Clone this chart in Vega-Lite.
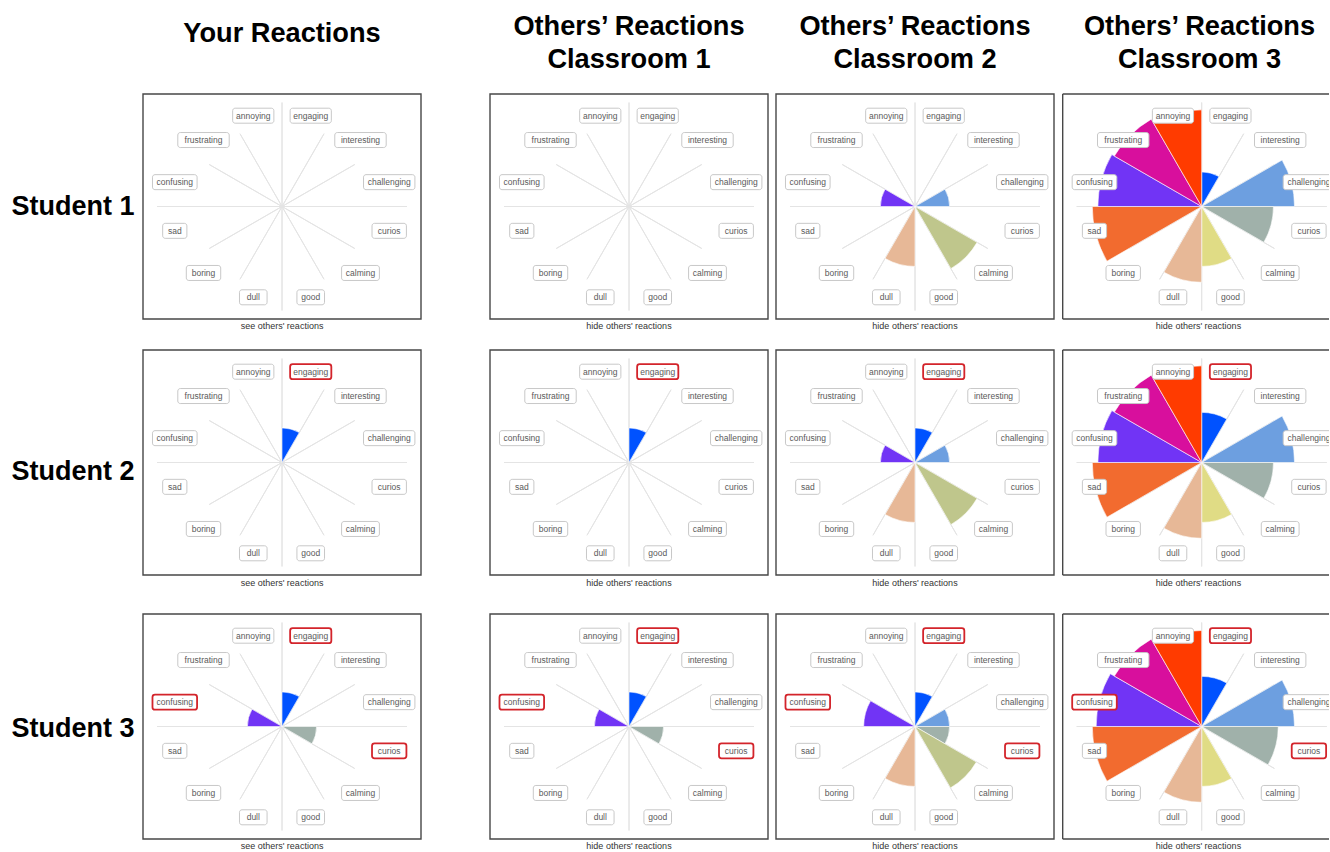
{
  "$schema": "https://vega.github.io/schema/vega-lite/v6.json",
  "background": "white",
  "padding": {"left": 11, "top": 0, "right": 0, "bottom": 0},
  "columns": 5,
  "spacing": {"row": 31, "column": 8},
  "align": "each",
  "bounds": "flush",
  "datasets": {
    "cats": [
      {"cat": "engaging", "k": 0}, {"cat": "interesting", "k": 1}, {"cat": "challenging", "k": 2},
      {"cat": "curios", "k": 3}, {"cat": "calming", "k": 4}, {"cat": "good", "k": 5},
      {"cat": "dull", "k": 6}, {"cat": "boring", "k": 7}, {"cat": "sad", "k": 8},
      {"cat": "confusing", "k": 9}, {"cat": "frustrating", "k": 10}, {"cat": "annoying", "k": 11}
    ],
    "labels": [
      {"s": 1, "cat": "engaging", "k": 0, "sel": 0}, {"s": 1, "cat": "interesting", "k": 1, "sel": 0}, {"s": 1, "cat": "challenging", "k": 2, "sel": 0},
      {"s": 1, "cat": "curios", "k": 3, "sel": 0}, {"s": 1, "cat": "calming", "k": 4, "sel": 0}, {"s": 1, "cat": "good", "k": 5, "sel": 0},
      {"s": 1, "cat": "dull", "k": 6, "sel": 0}, {"s": 1, "cat": "boring", "k": 7, "sel": 0}, {"s": 1, "cat": "sad", "k": 8, "sel": 0},
      {"s": 1, "cat": "confusing", "k": 9, "sel": 0}, {"s": 1, "cat": "frustrating", "k": 10, "sel": 0}, {"s": 1, "cat": "annoying", "k": 11, "sel": 0},
      {"s": 2, "cat": "engaging", "k": 0, "sel": 1}, {"s": 2, "cat": "interesting", "k": 1, "sel": 0}, {"s": 2, "cat": "challenging", "k": 2, "sel": 0},
      {"s": 2, "cat": "curios", "k": 3, "sel": 0}, {"s": 2, "cat": "calming", "k": 4, "sel": 0}, {"s": 2, "cat": "good", "k": 5, "sel": 0},
      {"s": 2, "cat": "dull", "k": 6, "sel": 0}, {"s": 2, "cat": "boring", "k": 7, "sel": 0}, {"s": 2, "cat": "sad", "k": 8, "sel": 0},
      {"s": 2, "cat": "confusing", "k": 9, "sel": 0}, {"s": 2, "cat": "frustrating", "k": 10, "sel": 0}, {"s": 2, "cat": "annoying", "k": 11, "sel": 0},
      {"s": 3, "cat": "engaging", "k": 0, "sel": 1}, {"s": 3, "cat": "interesting", "k": 1, "sel": 0}, {"s": 3, "cat": "challenging", "k": 2, "sel": 0},
      {"s": 3, "cat": "curios", "k": 3, "sel": 1}, {"s": 3, "cat": "calming", "k": 4, "sel": 0}, {"s": 3, "cat": "good", "k": 5, "sel": 0},
      {"s": 3, "cat": "dull", "k": 6, "sel": 0}, {"s": 3, "cat": "boring", "k": 7, "sel": 0}, {"s": 3, "cat": "sad", "k": 8, "sel": 0},
      {"s": 3, "cat": "confusing", "k": 9, "sel": 1}, {"s": 3, "cat": "frustrating", "k": 10, "sel": 0}, {"s": 3, "cat": "annoying", "k": 11, "sel": 0}
    ],
    "reactions": [
      {"s": 1, "v": "C2", "cat": "challenging", "k": 2, "n": 1},
      {"s": 1, "v": "C2", "cat": "calming", "k": 4, "n": 4.3},
      {"s": 1, "v": "C2", "cat": "dull", "k": 6, "n": 3},
      {"s": 1, "v": "C2", "cat": "confusing", "k": 9, "n": 1},
      {"s": 1, "v": "C3", "cat": "engaging", "k": 0, "n": 1},
      {"s": 1, "v": "C3", "cat": "challenging", "k": 2, "n": 7.2},
      {"s": 1, "v": "C3", "cat": "curios", "k": 3, "n": 4.3},
      {"s": 1, "v": "C3", "cat": "good", "k": 5, "n": 3},
      {"s": 1, "v": "C3", "cat": "dull", "k": 6, "n": 4.8},
      {"s": 1, "v": "C3", "cat": "sad", "k": 8, "n": 10},
      {"s": 1, "v": "C3", "cat": "confusing", "k": 9, "n": 9},
      {"s": 1, "v": "C3", "cat": "frustrating", "k": 10, "n": 8.5},
      {"s": 1, "v": "C3", "cat": "annoying", "k": 11, "n": 7.8},
      {"s": 2, "v": "Y", "cat": "engaging", "k": 0, "n": 1},
      {"s": 2, "v": "C1", "cat": "engaging", "k": 0, "n": 1},
      {"s": 2, "v": "C2", "cat": "engaging", "k": 0, "n": 1},
      {"s": 2, "v": "C2", "cat": "challenging", "k": 2, "n": 1},
      {"s": 2, "v": "C2", "cat": "calming", "k": 4, "n": 4.3},
      {"s": 2, "v": "C2", "cat": "dull", "k": 6, "n": 3},
      {"s": 2, "v": "C2", "cat": "confusing", "k": 9, "n": 1},
      {"s": 2, "v": "C3", "cat": "engaging", "k": 0, "n": 2.1},
      {"s": 2, "v": "C3", "cat": "challenging", "k": 2, "n": 7.2},
      {"s": 2, "v": "C3", "cat": "curios", "k": 3, "n": 4.3},
      {"s": 2, "v": "C3", "cat": "good", "k": 5, "n": 3},
      {"s": 2, "v": "C3", "cat": "dull", "k": 6, "n": 4.8},
      {"s": 2, "v": "C3", "cat": "sad", "k": 8, "n": 10},
      {"s": 2, "v": "C3", "cat": "confusing", "k": 9, "n": 9},
      {"s": 2, "v": "C3", "cat": "frustrating", "k": 10, "n": 8.5},
      {"s": 2, "v": "C3", "cat": "annoying", "k": 11, "n": 7.8},
      {"s": 3, "v": "Y", "cat": "engaging", "k": 0, "n": 1},
      {"s": 3, "v": "Y", "cat": "curios", "k": 3, "n": 1},
      {"s": 3, "v": "Y", "cat": "confusing", "k": 9, "n": 1},
      {"s": 3, "v": "C1", "cat": "engaging", "k": 0, "n": 1},
      {"s": 3, "v": "C1", "cat": "curios", "k": 3, "n": 1},
      {"s": 3, "v": "C1", "cat": "confusing", "k": 9, "n": 1},
      {"s": 3, "v": "C2", "cat": "engaging", "k": 0, "n": 1},
      {"s": 3, "v": "C2", "cat": "challenging", "k": 2, "n": 1},
      {"s": 3, "v": "C2", "cat": "curios", "k": 3, "n": 1},
      {"s": 3, "v": "C2", "cat": "calming", "k": 4, "n": 4.2},
      {"s": 3, "v": "C2", "cat": "dull", "k": 6, "n": 3},
      {"s": 3, "v": "C2", "cat": "confusing", "k": 9, "n": 2.2},
      {"s": 3, "v": "C3", "cat": "engaging", "k": 0, "n": 2.1},
      {"s": 3, "v": "C3", "cat": "challenging", "k": 2, "n": 7.2},
      {"s": 3, "v": "C3", "cat": "curios", "k": 3, "n": 4.9},
      {"s": 3, "v": "C3", "cat": "good", "k": 5, "n": 3},
      {"s": 3, "v": "C3", "cat": "dull", "k": 6, "n": 4.8},
      {"s": 3, "v": "C3", "cat": "sad", "k": 8, "n": 10},
      {"s": 3, "v": "C3", "cat": "confusing", "k": 9, "n": 9.3},
      {"s": 3, "v": "C3", "cat": "frustrating", "k": 10, "n": 8.5},
      {"s": 3, "v": "C3", "cat": "annoying", "k": 11, "n": 7.7}
    ]
  },
  "concat": [
    {"width": 124, "height": 63, "data": {"values": [{"t": ""}]}, "mark": {"type": "text"}, "encoding": {"text": {"field": "t"}}},
    {"width": 339, "height": 63, "data": {"values": [{"t": "Your Reactions"}]}, "mark": {"type": "text", "fontSize": 27.2, "fontWeight": "bold", "fill": "#000000", "baseline": "alphabetic", "dx": -30.5, "dy": 10.5}, "encoding": {"text": {"field": "t"}}},
    {"width": 278, "height": 63, "data": {"values": [{"t": "Others’ Reactions\nClassroom 1"}]}, "mark": {"type": "text", "fontSize": 27.2, "fontWeight": "bold", "fill": "#000000", "baseline": "alphabetic", "lineBreak": "\n", "lineHeight": 33, "dy": 3}, "encoding": {"text": {"field": "t"}}},
    {"width": 278, "height": 63, "data": {"values": [{"t": "Others’ Reactions\nClassroom 2"}]}, "mark": {"type": "text", "fontSize": 27.2, "fontWeight": "bold", "fill": "#000000", "baseline": "alphabetic", "lineBreak": "\n", "lineHeight": 33, "dy": 3}, "encoding": {"text": {"field": "t"}}},
    {"width": 267, "height": 63, "data": {"values": [{"t": "Others’ Reactions\nClassroom 3"}]}, "mark": {"type": "text", "fontSize": 27.2, "fontWeight": "bold", "fill": "#000000", "baseline": "alphabetic", "lineBreak": "\n", "lineHeight": 33, "dx": 4, "dy": 3}, "encoding": {"text": {"field": "t"}}},

    {"width": 124, "height": 225, "data": {"values": [{"t": "Student 1"}]}, "mark": {"type": "text", "fontSize": 27, "fontWeight": "bold", "fill": "#000000", "dy": 0}, "encoding": {"text": {"field": "t"}}},
    {
      "width": 339, "height": 225,
      "title": {"text": "see others' reactions", "offset": 2, "dx": -30.5},
      "layer": [
        {"data": {"values": [{}]}, "mark": {"type": "rect", "fill": "transparent", "stroke": "#474747", "strokeWidth": 1.4},
         "encoding": {"x": {"datum": -139, "type": "quantitative", "scale": {"domain": [-139, 200], "nice": false}}, "x2": {"datum": 139}, "y": {"datum": -112.5, "type": "quantitative", "scale": {"domain": [-112.5, 112.5], "nice": false}}, "y2": {"datum": 112.5}}},
        {"data": {"name": "cats"}, "encoding": {"x": {"datum": 0, "type": "quantitative"}, "y": {"datum": 0, "type": "quantitative"}, "theta": {"field": "k", "type": "quantitative", "scale": {"domain": [0, 12], "range": [0, 6.283185307]}, "stack": null}, "theta2": {"field": "k"}},
         "layer": [
          {"transform": [{"filter": "datum.k % 3 != 0"}], "mark": {"type": "arc", "filled": false, "stroke": "#e4e4e4", "strokeWidth": 1, "radius": 84}},
          {"transform": [{"filter": "datum.k % 6 == 0"}], "mark": {"type": "arc", "filled": false, "stroke": "#e4e4e4", "strokeWidth": 1, "radius": 104}},
          {"transform": [{"filter": "datum.k % 6 == 3"}], "mark": {"type": "arc", "filled": false, "stroke": "#e4e4e4", "strokeWidth": 1, "radius": 125}}]},
        {"data": {"name": "reactions"}, "transform": [{"filter": "datum.s == 1 && datum.v == 'Y'"}], "mark": {"type": "arc", "theta2Offset": 0.5235988, "stroke": "#ffffff", "strokeWidth": 0.6},
         "encoding": {"x": {"datum": 0, "type": "quantitative"}, "y": {"datum": 0, "type": "quantitative"}, "theta": {"field": "k", "type": "quantitative", "scale": {"domain": [0, 12], "range": [0, 6.283185307]}, "stack": null}, "theta2": {"field": "k"}, "radius": {"field": "n", "type": "quantitative", "scale": {"type": "sqrt", "domain": [0, 16], "range": [0, 138.4]}}, "color": {"field": "cat", "type": "nominal", "scale": {"domain": ["engaging","interesting","challenging","curios","calming","good","dull","boring","sad","confusing","frustrating","annoying"], "range": ["#0052ff","#4fc3c8","#6d9fe0","#a0b1aa","#bfc68c","#e0dc85","#e7b897","#b59c8a","#f26b2f","#7134f5","#d80f9d","#ff3b00"]}, "legend": null}}},
        {"data": {"name": "labels"}, "transform": [{"filter": "datum.s == 1"}, {"calculate": "(datum.k + 0.5) * PI / 6", "as": "a"}, {"calculate": "111 * sin(datum.a)", "as": "cx"}, {"calculate": "94 * cos(datum.a)", "as": "cy"}, {"calculate": "3.4 * length(datum.cat) + 14", "as": "w"}, {"calculate": "datum.cx - datum.w / 2", "as": "bx1"}, {"calculate": "datum.cx + datum.w / 2", "as": "bx2"}, {"calculate": "datum.cy - 7.5", "as": "by1"}, {"calculate": "datum.cy + 7.5", "as": "by2"}],
         "layer": [
          {"mark": {"type": "rect", "fill": "#ffffff", "cornerRadius": 2.5}, "encoding": {"x": {"field": "bx1", "type": "quantitative"}, "x2": {"field": "bx2"}, "y": {"field": "by1", "type": "quantitative"}, "y2": {"field": "by2"}, "stroke": {"condition": {"test": "datum.sel == 1", "value": "#d3242b"}, "value": "#c8c8c8"}, "strokeWidth": {"condition": {"test": "datum.sel == 1", "value": 1.8}, "value": 1}}},
          {"mark": {"type": "text", "fontSize": 8.5, "fill": "#5a5a5a"}, "encoding": {"x": {"field": "cx", "type": "quantitative"}, "y": {"field": "cy", "type": "quantitative"}, "text": {"field": "cat"}}}]}
      ]
    },
    {
      "width": 278, "height": 225,
      "title": {"text": "hide others' reactions", "offset": 2},
      "layer": [
        {"data": {"values": [{}]}, "mark": {"type": "rect", "fill": "transparent", "stroke": "#474747", "strokeWidth": 1.4},
         "encoding": {"x": {"datum": -139, "type": "quantitative", "scale": {"domain": [-139, 139], "nice": false}}, "x2": {"datum": 139}, "y": {"datum": -112.5, "type": "quantitative", "scale": {"domain": [-112.5, 112.5], "nice": false}}, "y2": {"datum": 112.5}}},
        {"data": {"name": "cats"}, "encoding": {"x": {"datum": 0, "type": "quantitative"}, "y": {"datum": 0, "type": "quantitative"}, "theta": {"field": "k", "type": "quantitative", "scale": {"domain": [0, 12], "range": [0, 6.283185307]}, "stack": null}, "theta2": {"field": "k"}},
         "layer": [
          {"transform": [{"filter": "datum.k % 3 != 0"}], "mark": {"type": "arc", "filled": false, "stroke": "#e4e4e4", "strokeWidth": 1, "radius": 84}},
          {"transform": [{"filter": "datum.k % 6 == 0"}], "mark": {"type": "arc", "filled": false, "stroke": "#e4e4e4", "strokeWidth": 1, "radius": 104}},
          {"transform": [{"filter": "datum.k % 6 == 3"}], "mark": {"type": "arc", "filled": false, "stroke": "#e4e4e4", "strokeWidth": 1, "radius": 125}}]},
        {"data": {"name": "reactions"}, "transform": [{"filter": "datum.s == 1 && datum.v == 'C1'"}], "mark": {"type": "arc", "theta2Offset": 0.5235988, "stroke": "#ffffff", "strokeWidth": 0.6},
         "encoding": {"x": {"datum": 0, "type": "quantitative"}, "y": {"datum": 0, "type": "quantitative"}, "theta": {"field": "k", "type": "quantitative", "scale": {"domain": [0, 12], "range": [0, 6.283185307]}, "stack": null}, "theta2": {"field": "k"}, "radius": {"field": "n", "type": "quantitative", "scale": {"type": "sqrt", "domain": [0, 16], "range": [0, 138.4]}}, "color": {"field": "cat", "type": "nominal", "scale": {"domain": ["engaging","interesting","challenging","curios","calming","good","dull","boring","sad","confusing","frustrating","annoying"], "range": ["#0052ff","#4fc3c8","#6d9fe0","#a0b1aa","#bfc68c","#e0dc85","#e7b897","#b59c8a","#f26b2f","#7134f5","#d80f9d","#ff3b00"]}, "legend": null}}},
        {"data": {"name": "labels"}, "transform": [{"filter": "datum.s == 1"}, {"calculate": "(datum.k + 0.5) * PI / 6", "as": "a"}, {"calculate": "111 * sin(datum.a)", "as": "cx"}, {"calculate": "94 * cos(datum.a)", "as": "cy"}, {"calculate": "3.4 * length(datum.cat) + 14", "as": "w"}, {"calculate": "datum.cx - datum.w / 2", "as": "bx1"}, {"calculate": "datum.cx + datum.w / 2", "as": "bx2"}, {"calculate": "datum.cy - 7.5", "as": "by1"}, {"calculate": "datum.cy + 7.5", "as": "by2"}],
         "layer": [
          {"mark": {"type": "rect", "fill": "#ffffff", "cornerRadius": 2.5}, "encoding": {"x": {"field": "bx1", "type": "quantitative"}, "x2": {"field": "bx2"}, "y": {"field": "by1", "type": "quantitative"}, "y2": {"field": "by2"}, "stroke": {"condition": {"test": "datum.sel == 1", "value": "#d3242b"}, "value": "#c8c8c8"}, "strokeWidth": {"condition": {"test": "datum.sel == 1", "value": 1.8}, "value": 1}}},
          {"mark": {"type": "text", "fontSize": 8.5, "fill": "#5a5a5a"}, "encoding": {"x": {"field": "cx", "type": "quantitative"}, "y": {"field": "cy", "type": "quantitative"}, "text": {"field": "cat"}}}]}
      ]
    },
    {
      "width": 278, "height": 225,
      "title": {"text": "hide others' reactions", "offset": 2},
      "layer": [
        {"data": {"values": [{}]}, "mark": {"type": "rect", "fill": "transparent", "stroke": "#474747", "strokeWidth": 1.4},
         "encoding": {"x": {"datum": -139, "type": "quantitative", "scale": {"domain": [-139, 139], "nice": false}}, "x2": {"datum": 139}, "y": {"datum": -112.5, "type": "quantitative", "scale": {"domain": [-112.5, 112.5], "nice": false}}, "y2": {"datum": 112.5}}},
        {"data": {"name": "cats"}, "encoding": {"x": {"datum": 0, "type": "quantitative"}, "y": {"datum": 0, "type": "quantitative"}, "theta": {"field": "k", "type": "quantitative", "scale": {"domain": [0, 12], "range": [0, 6.283185307]}, "stack": null}, "theta2": {"field": "k"}},
         "layer": [
          {"transform": [{"filter": "datum.k % 3 != 0"}], "mark": {"type": "arc", "filled": false, "stroke": "#e4e4e4", "strokeWidth": 1, "radius": 84}},
          {"transform": [{"filter": "datum.k % 6 == 0"}], "mark": {"type": "arc", "filled": false, "stroke": "#e4e4e4", "strokeWidth": 1, "radius": 104}},
          {"transform": [{"filter": "datum.k % 6 == 3"}], "mark": {"type": "arc", "filled": false, "stroke": "#e4e4e4", "strokeWidth": 1, "radius": 125}}]},
        {"data": {"name": "reactions"}, "transform": [{"filter": "datum.s == 1 && datum.v == 'C2'"}], "mark": {"type": "arc", "theta2Offset": 0.5235988, "stroke": "#ffffff", "strokeWidth": 0.6},
         "encoding": {"x": {"datum": 0, "type": "quantitative"}, "y": {"datum": 0, "type": "quantitative"}, "theta": {"field": "k", "type": "quantitative", "scale": {"domain": [0, 12], "range": [0, 6.283185307]}, "stack": null}, "theta2": {"field": "k"}, "radius": {"field": "n", "type": "quantitative", "scale": {"type": "sqrt", "domain": [0, 16], "range": [0, 138.4]}}, "color": {"field": "cat", "type": "nominal", "scale": {"domain": ["engaging","interesting","challenging","curios","calming","good","dull","boring","sad","confusing","frustrating","annoying"], "range": ["#0052ff","#4fc3c8","#6d9fe0","#a0b1aa","#bfc68c","#e0dc85","#e7b897","#b59c8a","#f26b2f","#7134f5","#d80f9d","#ff3b00"]}, "legend": null}}},
        {"data": {"name": "labels"}, "transform": [{"filter": "datum.s == 1"}, {"calculate": "(datum.k + 0.5) * PI / 6", "as": "a"}, {"calculate": "111 * sin(datum.a)", "as": "cx"}, {"calculate": "94 * cos(datum.a)", "as": "cy"}, {"calculate": "3.4 * length(datum.cat) + 14", "as": "w"}, {"calculate": "datum.cx - datum.w / 2", "as": "bx1"}, {"calculate": "datum.cx + datum.w / 2", "as": "bx2"}, {"calculate": "datum.cy - 7.5", "as": "by1"}, {"calculate": "datum.cy + 7.5", "as": "by2"}],
         "layer": [
          {"mark": {"type": "rect", "fill": "#ffffff", "cornerRadius": 2.5}, "encoding": {"x": {"field": "bx1", "type": "quantitative"}, "x2": {"field": "bx2"}, "y": {"field": "by1", "type": "quantitative"}, "y2": {"field": "by2"}, "stroke": {"condition": {"test": "datum.sel == 1", "value": "#d3242b"}, "value": "#c8c8c8"}, "strokeWidth": {"condition": {"test": "datum.sel == 1", "value": 1.8}, "value": 1}}},
          {"mark": {"type": "text", "fontSize": 8.5, "fill": "#5a5a5a"}, "encoding": {"x": {"field": "cx", "type": "quantitative"}, "y": {"field": "cy", "type": "quantitative"}, "text": {"field": "cat"}}}]}
      ]
    },
    {
      "width": 267, "height": 225,
      "title": {"text": "hide others' reactions", "offset": 2, "dx": 3},
      "layer": [
        {"data": {"values": [{}]}, "mark": {"type": "rule", "color": "#474747", "strokeWidth": 1.4},
         "encoding": {"x": {"datum": -139, "type": "quantitative", "scale": {"domain": [-139.7, 127.3], "nice": false}}, "x2": {"datum": 127.3}, "y": {"datum": 112.5, "type": "quantitative", "scale": {"domain": [-112.5, 112.5], "nice": false}}}},
        {"data": {"values": [{}]}, "mark": {"type": "rule", "color": "#474747", "strokeWidth": 1.4},
         "encoding": {"x": {"datum": -139, "type": "quantitative"}, "x2": {"datum": 127.3}, "y": {"datum": -112.5, "type": "quantitative"}}},
        {"data": {"values": [{}]}, "mark": {"type": "rule", "color": "#474747", "strokeWidth": 1.4},
         "encoding": {"x": {"datum": -139, "type": "quantitative"}, "y": {"datum": -112.5, "type": "quantitative"}, "y2": {"datum": 112.5}}},
        {"data": {"name": "cats"}, "encoding": {"x": {"datum": 0, "type": "quantitative"}, "y": {"datum": 0, "type": "quantitative"}, "theta": {"field": "k", "type": "quantitative", "scale": {"domain": [0, 12], "range": [0, 6.283185307]}, "stack": null}, "theta2": {"field": "k"}},
         "layer": [
          {"transform": [{"filter": "datum.k % 3 != 0"}], "mark": {"type": "arc", "filled": false, "stroke": "#e4e4e4", "strokeWidth": 1, "radius": 84}},
          {"transform": [{"filter": "datum.k % 6 == 0"}], "mark": {"type": "arc", "filled": false, "stroke": "#e4e4e4", "strokeWidth": 1, "radius": 104}},
          {"transform": [{"filter": "datum.k % 6 == 3"}], "mark": {"type": "arc", "filled": false, "stroke": "#e4e4e4", "strokeWidth": 1, "radius": 125}}]},
        {"data": {"name": "reactions"}, "transform": [{"filter": "datum.s == 1 && datum.v == 'C3'"}], "mark": {"type": "arc", "theta2Offset": 0.5235988, "stroke": "#ffffff", "strokeWidth": 0.6},
         "encoding": {"x": {"datum": 0, "type": "quantitative"}, "y": {"datum": 0, "type": "quantitative"}, "theta": {"field": "k", "type": "quantitative", "scale": {"domain": [0, 12], "range": [0, 6.283185307]}, "stack": null}, "theta2": {"field": "k"}, "radius": {"field": "n", "type": "quantitative", "scale": {"type": "sqrt", "domain": [0, 16], "range": [0, 138.4]}}, "color": {"field": "cat", "type": "nominal", "scale": {"domain": ["engaging","interesting","challenging","curios","calming","good","dull","boring","sad","confusing","frustrating","annoying"], "range": ["#0052ff","#4fc3c8","#6d9fe0","#a0b1aa","#bfc68c","#e0dc85","#e7b897","#b59c8a","#f26b2f","#7134f5","#d80f9d","#ff3b00"]}, "legend": null}}},
        {"data": {"name": "labels"}, "transform": [{"filter": "datum.s == 1"}, {"calculate": "(datum.k + 0.5) * PI / 6", "as": "a"}, {"calculate": "111 * sin(datum.a)", "as": "cx"}, {"calculate": "94 * cos(datum.a)", "as": "cy"}, {"calculate": "3.4 * length(datum.cat) + 14", "as": "w"}, {"calculate": "datum.cx - datum.w / 2", "as": "bx1"}, {"calculate": "datum.cx + datum.w / 2", "as": "bx2"}, {"calculate": "datum.cy - 7.5", "as": "by1"}, {"calculate": "datum.cy + 7.5", "as": "by2"}],
         "layer": [
          {"mark": {"type": "rect", "fill": "#ffffff", "cornerRadius": 2.5, "clip": true}, "encoding": {"x": {"field": "bx1", "type": "quantitative"}, "x2": {"field": "bx2"}, "y": {"field": "by1", "type": "quantitative"}, "y2": {"field": "by2"}, "stroke": {"condition": {"test": "datum.sel == 1", "value": "#d3242b"}, "value": "#c8c8c8"}, "strokeWidth": {"condition": {"test": "datum.sel == 1", "value": 1.8}, "value": 1}}},
          {"mark": {"type": "text", "fontSize": 8.5, "fill": "#5a5a5a", "clip": true}, "encoding": {"x": {"field": "cx", "type": "quantitative"}, "y": {"field": "cy", "type": "quantitative"}, "text": {"field": "cat"}}}]}
      ]
    },

    {"width": 124, "height": 233, "data": {"values": [{"t": "Student 2"}]}, "mark": {"type": "text", "fontSize": 27, "fontWeight": "bold", "fill": "#000000", "dy": 5}, "encoding": {"text": {"field": "t"}}},
    {
      "width": 339, "height": 233,
      "title": {"text": "see others' reactions", "offset": -4, "dx": -30.5},
      "layer": [
        {"data": {"values": [{}]}, "mark": {"type": "rect", "fill": "transparent", "stroke": "#474747", "strokeWidth": 1.4},
         "encoding": {"x": {"datum": -139, "type": "quantitative", "scale": {"domain": [-139, 200], "nice": false}}, "x2": {"datum": 139}, "y": {"datum": -112.5, "type": "quantitative", "scale": {"domain": [-120.5, 112.5], "nice": false}}, "y2": {"datum": 112.5}}},
        {"data": {"name": "cats"}, "encoding": {"x": {"datum": 0, "type": "quantitative"}, "y": {"datum": 0, "type": "quantitative"}, "theta": {"field": "k", "type": "quantitative", "scale": {"domain": [0, 12], "range": [0, 6.283185307]}, "stack": null}, "theta2": {"field": "k"}},
         "layer": [
          {"transform": [{"filter": "datum.k % 3 != 0"}], "mark": {"type": "arc", "filled": false, "stroke": "#e4e4e4", "strokeWidth": 1, "radius": 84}},
          {"transform": [{"filter": "datum.k % 6 == 0"}], "mark": {"type": "arc", "filled": false, "stroke": "#e4e4e4", "strokeWidth": 1, "radius": 104}},
          {"transform": [{"filter": "datum.k % 6 == 3"}], "mark": {"type": "arc", "filled": false, "stroke": "#e4e4e4", "strokeWidth": 1, "radius": 125}}]},
        {"data": {"name": "reactions"}, "transform": [{"filter": "datum.s == 2 && datum.v == 'Y'"}], "mark": {"type": "arc", "theta2Offset": 0.5235988, "stroke": "#ffffff", "strokeWidth": 0.6},
         "encoding": {"x": {"datum": 0, "type": "quantitative"}, "y": {"datum": 0, "type": "quantitative"}, "theta": {"field": "k", "type": "quantitative", "scale": {"domain": [0, 12], "range": [0, 6.283185307]}, "stack": null}, "theta2": {"field": "k"}, "radius": {"field": "n", "type": "quantitative", "scale": {"type": "sqrt", "domain": [0, 16], "range": [0, 138.4]}}, "color": {"field": "cat", "type": "nominal", "scale": {"domain": ["engaging","interesting","challenging","curios","calming","good","dull","boring","sad","confusing","frustrating","annoying"], "range": ["#0052ff","#4fc3c8","#6d9fe0","#a0b1aa","#bfc68c","#e0dc85","#e7b897","#b59c8a","#f26b2f","#7134f5","#d80f9d","#ff3b00"]}, "legend": null}}},
        {"data": {"name": "labels"}, "transform": [{"filter": "datum.s == 2"}, {"calculate": "(datum.k + 0.5) * PI / 6", "as": "a"}, {"calculate": "111 * sin(datum.a)", "as": "cx"}, {"calculate": "94 * cos(datum.a)", "as": "cy"}, {"calculate": "3.4 * length(datum.cat) + 14", "as": "w"}, {"calculate": "datum.cx - datum.w / 2", "as": "bx1"}, {"calculate": "datum.cx + datum.w / 2", "as": "bx2"}, {"calculate": "datum.cy - 7.5", "as": "by1"}, {"calculate": "datum.cy + 7.5", "as": "by2"}],
         "layer": [
          {"mark": {"type": "rect", "fill": "#ffffff", "cornerRadius": 2.5}, "encoding": {"x": {"field": "bx1", "type": "quantitative"}, "x2": {"field": "bx2"}, "y": {"field": "by1", "type": "quantitative"}, "y2": {"field": "by2"}, "stroke": {"condition": {"test": "datum.sel == 1", "value": "#d3242b"}, "value": "#c8c8c8"}, "strokeWidth": {"condition": {"test": "datum.sel == 1", "value": 1.8}, "value": 1}}},
          {"mark": {"type": "text", "fontSize": 8.5, "fill": "#5a5a5a"}, "encoding": {"x": {"field": "cx", "type": "quantitative"}, "y": {"field": "cy", "type": "quantitative"}, "text": {"field": "cat"}}}]}
      ]
    },
    {
      "width": 278, "height": 233,
      "title": {"text": "hide others' reactions", "offset": -4},
      "layer": [
        {"data": {"values": [{}]}, "mark": {"type": "rect", "fill": "transparent", "stroke": "#474747", "strokeWidth": 1.4},
         "encoding": {"x": {"datum": -139, "type": "quantitative", "scale": {"domain": [-139, 139], "nice": false}}, "x2": {"datum": 139}, "y": {"datum": -112.5, "type": "quantitative", "scale": {"domain": [-120.5, 112.5], "nice": false}}, "y2": {"datum": 112.5}}},
        {"data": {"name": "cats"}, "encoding": {"x": {"datum": 0, "type": "quantitative"}, "y": {"datum": 0, "type": "quantitative"}, "theta": {"field": "k", "type": "quantitative", "scale": {"domain": [0, 12], "range": [0, 6.283185307]}, "stack": null}, "theta2": {"field": "k"}},
         "layer": [
          {"transform": [{"filter": "datum.k % 3 != 0"}], "mark": {"type": "arc", "filled": false, "stroke": "#e4e4e4", "strokeWidth": 1, "radius": 84}},
          {"transform": [{"filter": "datum.k % 6 == 0"}], "mark": {"type": "arc", "filled": false, "stroke": "#e4e4e4", "strokeWidth": 1, "radius": 104}},
          {"transform": [{"filter": "datum.k % 6 == 3"}], "mark": {"type": "arc", "filled": false, "stroke": "#e4e4e4", "strokeWidth": 1, "radius": 125}}]},
        {"data": {"name": "reactions"}, "transform": [{"filter": "datum.s == 2 && datum.v == 'C1'"}], "mark": {"type": "arc", "theta2Offset": 0.5235988, "stroke": "#ffffff", "strokeWidth": 0.6},
         "encoding": {"x": {"datum": 0, "type": "quantitative"}, "y": {"datum": 0, "type": "quantitative"}, "theta": {"field": "k", "type": "quantitative", "scale": {"domain": [0, 12], "range": [0, 6.283185307]}, "stack": null}, "theta2": {"field": "k"}, "radius": {"field": "n", "type": "quantitative", "scale": {"type": "sqrt", "domain": [0, 16], "range": [0, 138.4]}}, "color": {"field": "cat", "type": "nominal", "scale": {"domain": ["engaging","interesting","challenging","curios","calming","good","dull","boring","sad","confusing","frustrating","annoying"], "range": ["#0052ff","#4fc3c8","#6d9fe0","#a0b1aa","#bfc68c","#e0dc85","#e7b897","#b59c8a","#f26b2f","#7134f5","#d80f9d","#ff3b00"]}, "legend": null}}},
        {"data": {"name": "labels"}, "transform": [{"filter": "datum.s == 2"}, {"calculate": "(datum.k + 0.5) * PI / 6", "as": "a"}, {"calculate": "111 * sin(datum.a)", "as": "cx"}, {"calculate": "94 * cos(datum.a)", "as": "cy"}, {"calculate": "3.4 * length(datum.cat) + 14", "as": "w"}, {"calculate": "datum.cx - datum.w / 2", "as": "bx1"}, {"calculate": "datum.cx + datum.w / 2", "as": "bx2"}, {"calculate": "datum.cy - 7.5", "as": "by1"}, {"calculate": "datum.cy + 7.5", "as": "by2"}],
         "layer": [
          {"mark": {"type": "rect", "fill": "#ffffff", "cornerRadius": 2.5}, "encoding": {"x": {"field": "bx1", "type": "quantitative"}, "x2": {"field": "bx2"}, "y": {"field": "by1", "type": "quantitative"}, "y2": {"field": "by2"}, "stroke": {"condition": {"test": "datum.sel == 1", "value": "#d3242b"}, "value": "#c8c8c8"}, "strokeWidth": {"condition": {"test": "datum.sel == 1", "value": 1.8}, "value": 1}}},
          {"mark": {"type": "text", "fontSize": 8.5, "fill": "#5a5a5a"}, "encoding": {"x": {"field": "cx", "type": "quantitative"}, "y": {"field": "cy", "type": "quantitative"}, "text": {"field": "cat"}}}]}
      ]
    },
    {
      "width": 278, "height": 233,
      "title": {"text": "hide others' reactions", "offset": -4},
      "layer": [
        {"data": {"values": [{}]}, "mark": {"type": "rect", "fill": "transparent", "stroke": "#474747", "strokeWidth": 1.4},
         "encoding": {"x": {"datum": -139, "type": "quantitative", "scale": {"domain": [-139, 139], "nice": false}}, "x2": {"datum": 139}, "y": {"datum": -112.5, "type": "quantitative", "scale": {"domain": [-120.5, 112.5], "nice": false}}, "y2": {"datum": 112.5}}},
        {"data": {"name": "cats"}, "encoding": {"x": {"datum": 0, "type": "quantitative"}, "y": {"datum": 0, "type": "quantitative"}, "theta": {"field": "k", "type": "quantitative", "scale": {"domain": [0, 12], "range": [0, 6.283185307]}, "stack": null}, "theta2": {"field": "k"}},
         "layer": [
          {"transform": [{"filter": "datum.k % 3 != 0"}], "mark": {"type": "arc", "filled": false, "stroke": "#e4e4e4", "strokeWidth": 1, "radius": 84}},
          {"transform": [{"filter": "datum.k % 6 == 0"}], "mark": {"type": "arc", "filled": false, "stroke": "#e4e4e4", "strokeWidth": 1, "radius": 104}},
          {"transform": [{"filter": "datum.k % 6 == 3"}], "mark": {"type": "arc", "filled": false, "stroke": "#e4e4e4", "strokeWidth": 1, "radius": 125}}]},
        {"data": {"name": "reactions"}, "transform": [{"filter": "datum.s == 2 && datum.v == 'C2'"}], "mark": {"type": "arc", "theta2Offset": 0.5235988, "stroke": "#ffffff", "strokeWidth": 0.6},
         "encoding": {"x": {"datum": 0, "type": "quantitative"}, "y": {"datum": 0, "type": "quantitative"}, "theta": {"field": "k", "type": "quantitative", "scale": {"domain": [0, 12], "range": [0, 6.283185307]}, "stack": null}, "theta2": {"field": "k"}, "radius": {"field": "n", "type": "quantitative", "scale": {"type": "sqrt", "domain": [0, 16], "range": [0, 138.4]}}, "color": {"field": "cat", "type": "nominal", "scale": {"domain": ["engaging","interesting","challenging","curios","calming","good","dull","boring","sad","confusing","frustrating","annoying"], "range": ["#0052ff","#4fc3c8","#6d9fe0","#a0b1aa","#bfc68c","#e0dc85","#e7b897","#b59c8a","#f26b2f","#7134f5","#d80f9d","#ff3b00"]}, "legend": null}}},
        {"data": {"name": "labels"}, "transform": [{"filter": "datum.s == 2"}, {"calculate": "(datum.k + 0.5) * PI / 6", "as": "a"}, {"calculate": "111 * sin(datum.a)", "as": "cx"}, {"calculate": "94 * cos(datum.a)", "as": "cy"}, {"calculate": "3.4 * length(datum.cat) + 14", "as": "w"}, {"calculate": "datum.cx - datum.w / 2", "as": "bx1"}, {"calculate": "datum.cx + datum.w / 2", "as": "bx2"}, {"calculate": "datum.cy - 7.5", "as": "by1"}, {"calculate": "datum.cy + 7.5", "as": "by2"}],
         "layer": [
          {"mark": {"type": "rect", "fill": "#ffffff", "cornerRadius": 2.5}, "encoding": {"x": {"field": "bx1", "type": "quantitative"}, "x2": {"field": "bx2"}, "y": {"field": "by1", "type": "quantitative"}, "y2": {"field": "by2"}, "stroke": {"condition": {"test": "datum.sel == 1", "value": "#d3242b"}, "value": "#c8c8c8"}, "strokeWidth": {"condition": {"test": "datum.sel == 1", "value": 1.8}, "value": 1}}},
          {"mark": {"type": "text", "fontSize": 8.5, "fill": "#5a5a5a"}, "encoding": {"x": {"field": "cx", "type": "quantitative"}, "y": {"field": "cy", "type": "quantitative"}, "text": {"field": "cat"}}}]}
      ]
    },
    {
      "width": 267, "height": 233,
      "title": {"text": "hide others' reactions", "offset": -4, "dx": 3},
      "layer": [
        {"data": {"values": [{}]}, "mark": {"type": "rule", "color": "#474747", "strokeWidth": 1.4},
         "encoding": {"x": {"datum": -139, "type": "quantitative", "scale": {"domain": [-139.7, 127.3], "nice": false}}, "x2": {"datum": 127.3}, "y": {"datum": 112.5, "type": "quantitative", "scale": {"domain": [-120.5, 112.5], "nice": false}}}},
        {"data": {"values": [{}]}, "mark": {"type": "rule", "color": "#474747", "strokeWidth": 1.4},
         "encoding": {"x": {"datum": -139, "type": "quantitative"}, "x2": {"datum": 127.3}, "y": {"datum": -112.5, "type": "quantitative"}}},
        {"data": {"values": [{}]}, "mark": {"type": "rule", "color": "#474747", "strokeWidth": 1.4},
         "encoding": {"x": {"datum": -139, "type": "quantitative"}, "y": {"datum": -112.5, "type": "quantitative"}, "y2": {"datum": 112.5}}},
        {"data": {"name": "cats"}, "encoding": {"x": {"datum": 0, "type": "quantitative"}, "y": {"datum": 0, "type": "quantitative"}, "theta": {"field": "k", "type": "quantitative", "scale": {"domain": [0, 12], "range": [0, 6.283185307]}, "stack": null}, "theta2": {"field": "k"}},
         "layer": [
          {"transform": [{"filter": "datum.k % 3 != 0"}], "mark": {"type": "arc", "filled": false, "stroke": "#e4e4e4", "strokeWidth": 1, "radius": 84}},
          {"transform": [{"filter": "datum.k % 6 == 0"}], "mark": {"type": "arc", "filled": false, "stroke": "#e4e4e4", "strokeWidth": 1, "radius": 104}},
          {"transform": [{"filter": "datum.k % 6 == 3"}], "mark": {"type": "arc", "filled": false, "stroke": "#e4e4e4", "strokeWidth": 1, "radius": 125}}]},
        {"data": {"name": "reactions"}, "transform": [{"filter": "datum.s == 2 && datum.v == 'C3'"}], "mark": {"type": "arc", "theta2Offset": 0.5235988, "stroke": "#ffffff", "strokeWidth": 0.6},
         "encoding": {"x": {"datum": 0, "type": "quantitative"}, "y": {"datum": 0, "type": "quantitative"}, "theta": {"field": "k", "type": "quantitative", "scale": {"domain": [0, 12], "range": [0, 6.283185307]}, "stack": null}, "theta2": {"field": "k"}, "radius": {"field": "n", "type": "quantitative", "scale": {"type": "sqrt", "domain": [0, 16], "range": [0, 138.4]}}, "color": {"field": "cat", "type": "nominal", "scale": {"domain": ["engaging","interesting","challenging","curios","calming","good","dull","boring","sad","confusing","frustrating","annoying"], "range": ["#0052ff","#4fc3c8","#6d9fe0","#a0b1aa","#bfc68c","#e0dc85","#e7b897","#b59c8a","#f26b2f","#7134f5","#d80f9d","#ff3b00"]}, "legend": null}}},
        {"data": {"name": "labels"}, "transform": [{"filter": "datum.s == 2"}, {"calculate": "(datum.k + 0.5) * PI / 6", "as": "a"}, {"calculate": "111 * sin(datum.a)", "as": "cx"}, {"calculate": "94 * cos(datum.a)", "as": "cy"}, {"calculate": "3.4 * length(datum.cat) + 14", "as": "w"}, {"calculate": "datum.cx - datum.w / 2", "as": "bx1"}, {"calculate": "datum.cx + datum.w / 2", "as": "bx2"}, {"calculate": "datum.cy - 7.5", "as": "by1"}, {"calculate": "datum.cy + 7.5", "as": "by2"}],
         "layer": [
          {"mark": {"type": "rect", "fill": "#ffffff", "cornerRadius": 2.5, "clip": true}, "encoding": {"x": {"field": "bx1", "type": "quantitative"}, "x2": {"field": "bx2"}, "y": {"field": "by1", "type": "quantitative"}, "y2": {"field": "by2"}, "stroke": {"condition": {"test": "datum.sel == 1", "value": "#d3242b"}, "value": "#c8c8c8"}, "strokeWidth": {"condition": {"test": "datum.sel == 1", "value": 1.8}, "value": 1}}},
          {"mark": {"type": "text", "fontSize": 8.5, "fill": "#5a5a5a", "clip": true}, "encoding": {"x": {"field": "cx", "type": "quantitative"}, "y": {"field": "cy", "type": "quantitative"}, "text": {"field": "cat"}}}]}
      ]
    },

    {"width": 124, "height": 225, "data": {"values": [{"t": "Student 3"}]}, "mark": {"type": "text", "fontSize": 27, "fontWeight": "bold", "fill": "#000000", "dy": 2}, "encoding": {"text": {"field": "t"}}},
    {
      "width": 339, "height": 225,
      "title": {"text": "see others' reactions", "offset": 2.5, "dx": -30.5},
      "layer": [
        {"data": {"values": [{}]}, "mark": {"type": "rect", "fill": "transparent", "stroke": "#474747", "strokeWidth": 1.4},
         "encoding": {"x": {"datum": -139, "type": "quantitative", "scale": {"domain": [-139, 200], "nice": false}}, "x2": {"datum": 139}, "y": {"datum": -112.5, "type": "quantitative", "scale": {"domain": [-112.5, 112.5], "nice": false}}, "y2": {"datum": 112.5}}},
        {"data": {"name": "cats"}, "encoding": {"x": {"datum": 0, "type": "quantitative"}, "y": {"datum": 0, "type": "quantitative"}, "theta": {"field": "k", "type": "quantitative", "scale": {"domain": [0, 12], "range": [0, 6.283185307]}, "stack": null}, "theta2": {"field": "k"}},
         "layer": [
          {"transform": [{"filter": "datum.k % 3 != 0"}], "mark": {"type": "arc", "filled": false, "stroke": "#e4e4e4", "strokeWidth": 1, "radius": 84}},
          {"transform": [{"filter": "datum.k % 6 == 0"}], "mark": {"type": "arc", "filled": false, "stroke": "#e4e4e4", "strokeWidth": 1, "radius": 104}},
          {"transform": [{"filter": "datum.k % 6 == 3"}], "mark": {"type": "arc", "filled": false, "stroke": "#e4e4e4", "strokeWidth": 1, "radius": 125}}]},
        {"data": {"name": "reactions"}, "transform": [{"filter": "datum.s == 3 && datum.v == 'Y'"}], "mark": {"type": "arc", "theta2Offset": 0.5235988, "stroke": "#ffffff", "strokeWidth": 0.6},
         "encoding": {"x": {"datum": 0, "type": "quantitative"}, "y": {"datum": 0, "type": "quantitative"}, "theta": {"field": "k", "type": "quantitative", "scale": {"domain": [0, 12], "range": [0, 6.283185307]}, "stack": null}, "theta2": {"field": "k"}, "radius": {"field": "n", "type": "quantitative", "scale": {"type": "sqrt", "domain": [0, 16], "range": [0, 138.4]}}, "color": {"field": "cat", "type": "nominal", "scale": {"domain": ["engaging","interesting","challenging","curios","calming","good","dull","boring","sad","confusing","frustrating","annoying"], "range": ["#0052ff","#4fc3c8","#6d9fe0","#a0b1aa","#bfc68c","#e0dc85","#e7b897","#b59c8a","#f26b2f","#7134f5","#d80f9d","#ff3b00"]}, "legend": null}}},
        {"data": {"name": "labels"}, "transform": [{"filter": "datum.s == 3"}, {"calculate": "(datum.k + 0.5) * PI / 6", "as": "a"}, {"calculate": "111 * sin(datum.a)", "as": "cx"}, {"calculate": "94 * cos(datum.a)", "as": "cy"}, {"calculate": "3.4 * length(datum.cat) + 14", "as": "w"}, {"calculate": "datum.cx - datum.w / 2", "as": "bx1"}, {"calculate": "datum.cx + datum.w / 2", "as": "bx2"}, {"calculate": "datum.cy - 7.5", "as": "by1"}, {"calculate": "datum.cy + 7.5", "as": "by2"}],
         "layer": [
          {"mark": {"type": "rect", "fill": "#ffffff", "cornerRadius": 2.5}, "encoding": {"x": {"field": "bx1", "type": "quantitative"}, "x2": {"field": "bx2"}, "y": {"field": "by1", "type": "quantitative"}, "y2": {"field": "by2"}, "stroke": {"condition": {"test": "datum.sel == 1", "value": "#d3242b"}, "value": "#c8c8c8"}, "strokeWidth": {"condition": {"test": "datum.sel == 1", "value": 1.8}, "value": 1}}},
          {"mark": {"type": "text", "fontSize": 8.5, "fill": "#5a5a5a"}, "encoding": {"x": {"field": "cx", "type": "quantitative"}, "y": {"field": "cy", "type": "quantitative"}, "text": {"field": "cat"}}}]}
      ]
    },
    {
      "width": 278, "height": 225,
      "title": {"text": "hide others' reactions", "offset": 2.5},
      "layer": [
        {"data": {"values": [{}]}, "mark": {"type": "rect", "fill": "transparent", "stroke": "#474747", "strokeWidth": 1.4},
         "encoding": {"x": {"datum": -139, "type": "quantitative", "scale": {"domain": [-139, 139], "nice": false}}, "x2": {"datum": 139}, "y": {"datum": -112.5, "type": "quantitative", "scale": {"domain": [-112.5, 112.5], "nice": false}}, "y2": {"datum": 112.5}}},
        {"data": {"name": "cats"}, "encoding": {"x": {"datum": 0, "type": "quantitative"}, "y": {"datum": 0, "type": "quantitative"}, "theta": {"field": "k", "type": "quantitative", "scale": {"domain": [0, 12], "range": [0, 6.283185307]}, "stack": null}, "theta2": {"field": "k"}},
         "layer": [
          {"transform": [{"filter": "datum.k % 3 != 0"}], "mark": {"type": "arc", "filled": false, "stroke": "#e4e4e4", "strokeWidth": 1, "radius": 84}},
          {"transform": [{"filter": "datum.k % 6 == 0"}], "mark": {"type": "arc", "filled": false, "stroke": "#e4e4e4", "strokeWidth": 1, "radius": 104}},
          {"transform": [{"filter": "datum.k % 6 == 3"}], "mark": {"type": "arc", "filled": false, "stroke": "#e4e4e4", "strokeWidth": 1, "radius": 125}}]},
        {"data": {"name": "reactions"}, "transform": [{"filter": "datum.s == 3 && datum.v == 'C1'"}], "mark": {"type": "arc", "theta2Offset": 0.5235988, "stroke": "#ffffff", "strokeWidth": 0.6},
         "encoding": {"x": {"datum": 0, "type": "quantitative"}, "y": {"datum": 0, "type": "quantitative"}, "theta": {"field": "k", "type": "quantitative", "scale": {"domain": [0, 12], "range": [0, 6.283185307]}, "stack": null}, "theta2": {"field": "k"}, "radius": {"field": "n", "type": "quantitative", "scale": {"type": "sqrt", "domain": [0, 16], "range": [0, 138.4]}}, "color": {"field": "cat", "type": "nominal", "scale": {"domain": ["engaging","interesting","challenging","curios","calming","good","dull","boring","sad","confusing","frustrating","annoying"], "range": ["#0052ff","#4fc3c8","#6d9fe0","#a0b1aa","#bfc68c","#e0dc85","#e7b897","#b59c8a","#f26b2f","#7134f5","#d80f9d","#ff3b00"]}, "legend": null}}},
        {"data": {"name": "labels"}, "transform": [{"filter": "datum.s == 3"}, {"calculate": "(datum.k + 0.5) * PI / 6", "as": "a"}, {"calculate": "111 * sin(datum.a)", "as": "cx"}, {"calculate": "94 * cos(datum.a)", "as": "cy"}, {"calculate": "3.4 * length(datum.cat) + 14", "as": "w"}, {"calculate": "datum.cx - datum.w / 2", "as": "bx1"}, {"calculate": "datum.cx + datum.w / 2", "as": "bx2"}, {"calculate": "datum.cy - 7.5", "as": "by1"}, {"calculate": "datum.cy + 7.5", "as": "by2"}],
         "layer": [
          {"mark": {"type": "rect", "fill": "#ffffff", "cornerRadius": 2.5}, "encoding": {"x": {"field": "bx1", "type": "quantitative"}, "x2": {"field": "bx2"}, "y": {"field": "by1", "type": "quantitative"}, "y2": {"field": "by2"}, "stroke": {"condition": {"test": "datum.sel == 1", "value": "#d3242b"}, "value": "#c8c8c8"}, "strokeWidth": {"condition": {"test": "datum.sel == 1", "value": 1.8}, "value": 1}}},
          {"mark": {"type": "text", "fontSize": 8.5, "fill": "#5a5a5a"}, "encoding": {"x": {"field": "cx", "type": "quantitative"}, "y": {"field": "cy", "type": "quantitative"}, "text": {"field": "cat"}}}]}
      ]
    },
    {
      "width": 278, "height": 225,
      "title": {"text": "hide others' reactions", "offset": 2.5},
      "layer": [
        {"data": {"values": [{}]}, "mark": {"type": "rect", "fill": "transparent", "stroke": "#474747", "strokeWidth": 1.4},
         "encoding": {"x": {"datum": -139, "type": "quantitative", "scale": {"domain": [-139, 139], "nice": false}}, "x2": {"datum": 139}, "y": {"datum": -112.5, "type": "quantitative", "scale": {"domain": [-112.5, 112.5], "nice": false}}, "y2": {"datum": 112.5}}},
        {"data": {"name": "cats"}, "encoding": {"x": {"datum": 0, "type": "quantitative"}, "y": {"datum": 0, "type": "quantitative"}, "theta": {"field": "k", "type": "quantitative", "scale": {"domain": [0, 12], "range": [0, 6.283185307]}, "stack": null}, "theta2": {"field": "k"}},
         "layer": [
          {"transform": [{"filter": "datum.k % 3 != 0"}], "mark": {"type": "arc", "filled": false, "stroke": "#e4e4e4", "strokeWidth": 1, "radius": 84}},
          {"transform": [{"filter": "datum.k % 6 == 0"}], "mark": {"type": "arc", "filled": false, "stroke": "#e4e4e4", "strokeWidth": 1, "radius": 104}},
          {"transform": [{"filter": "datum.k % 6 == 3"}], "mark": {"type": "arc", "filled": false, "stroke": "#e4e4e4", "strokeWidth": 1, "radius": 125}}]},
        {"data": {"name": "reactions"}, "transform": [{"filter": "datum.s == 3 && datum.v == 'C2'"}], "mark": {"type": "arc", "theta2Offset": 0.5235988, "stroke": "#ffffff", "strokeWidth": 0.6},
         "encoding": {"x": {"datum": 0, "type": "quantitative"}, "y": {"datum": 0, "type": "quantitative"}, "theta": {"field": "k", "type": "quantitative", "scale": {"domain": [0, 12], "range": [0, 6.283185307]}, "stack": null}, "theta2": {"field": "k"}, "radius": {"field": "n", "type": "quantitative", "scale": {"type": "sqrt", "domain": [0, 16], "range": [0, 138.4]}}, "color": {"field": "cat", "type": "nominal", "scale": {"domain": ["engaging","interesting","challenging","curios","calming","good","dull","boring","sad","confusing","frustrating","annoying"], "range": ["#0052ff","#4fc3c8","#6d9fe0","#a0b1aa","#bfc68c","#e0dc85","#e7b897","#b59c8a","#f26b2f","#7134f5","#d80f9d","#ff3b00"]}, "legend": null}}},
        {"data": {"name": "labels"}, "transform": [{"filter": "datum.s == 3"}, {"calculate": "(datum.k + 0.5) * PI / 6", "as": "a"}, {"calculate": "111 * sin(datum.a)", "as": "cx"}, {"calculate": "94 * cos(datum.a)", "as": "cy"}, {"calculate": "3.4 * length(datum.cat) + 14", "as": "w"}, {"calculate": "datum.cx - datum.w / 2", "as": "bx1"}, {"calculate": "datum.cx + datum.w / 2", "as": "bx2"}, {"calculate": "datum.cy - 7.5", "as": "by1"}, {"calculate": "datum.cy + 7.5", "as": "by2"}],
         "layer": [
          {"mark": {"type": "rect", "fill": "#ffffff", "cornerRadius": 2.5}, "encoding": {"x": {"field": "bx1", "type": "quantitative"}, "x2": {"field": "bx2"}, "y": {"field": "by1", "type": "quantitative"}, "y2": {"field": "by2"}, "stroke": {"condition": {"test": "datum.sel == 1", "value": "#d3242b"}, "value": "#c8c8c8"}, "strokeWidth": {"condition": {"test": "datum.sel == 1", "value": 1.8}, "value": 1}}},
          {"mark": {"type": "text", "fontSize": 8.5, "fill": "#5a5a5a"}, "encoding": {"x": {"field": "cx", "type": "quantitative"}, "y": {"field": "cy", "type": "quantitative"}, "text": {"field": "cat"}}}]}
      ]
    },
    {
      "width": 267, "height": 225,
      "title": {"text": "hide others' reactions", "offset": 2.5, "dx": 3},
      "layer": [
        {"data": {"values": [{}]}, "mark": {"type": "rule", "color": "#474747", "strokeWidth": 1.4},
         "encoding": {"x": {"datum": -139, "type": "quantitative", "scale": {"domain": [-139.7, 127.3], "nice": false}}, "x2": {"datum": 127.3}, "y": {"datum": 112.5, "type": "quantitative", "scale": {"domain": [-112.5, 112.5], "nice": false}}}},
        {"data": {"values": [{}]}, "mark": {"type": "rule", "color": "#474747", "strokeWidth": 1.4},
         "encoding": {"x": {"datum": -139, "type": "quantitative"}, "x2": {"datum": 127.3}, "y": {"datum": -112.5, "type": "quantitative"}}},
        {"data": {"values": [{}]}, "mark": {"type": "rule", "color": "#474747", "strokeWidth": 1.4},
         "encoding": {"x": {"datum": -139, "type": "quantitative"}, "y": {"datum": -112.5, "type": "quantitative"}, "y2": {"datum": 112.5}}},
        {"data": {"name": "cats"}, "encoding": {"x": {"datum": 0, "type": "quantitative"}, "y": {"datum": 0, "type": "quantitative"}, "theta": {"field": "k", "type": "quantitative", "scale": {"domain": [0, 12], "range": [0, 6.283185307]}, "stack": null}, "theta2": {"field": "k"}},
         "layer": [
          {"transform": [{"filter": "datum.k % 3 != 0"}], "mark": {"type": "arc", "filled": false, "stroke": "#e4e4e4", "strokeWidth": 1, "radius": 84}},
          {"transform": [{"filter": "datum.k % 6 == 0"}], "mark": {"type": "arc", "filled": false, "stroke": "#e4e4e4", "strokeWidth": 1, "radius": 104}},
          {"transform": [{"filter": "datum.k % 6 == 3"}], "mark": {"type": "arc", "filled": false, "stroke": "#e4e4e4", "strokeWidth": 1, "radius": 125}}]},
        {"data": {"name": "reactions"}, "transform": [{"filter": "datum.s == 3 && datum.v == 'C3'"}], "mark": {"type": "arc", "theta2Offset": 0.5235988, "stroke": "#ffffff", "strokeWidth": 0.6},
         "encoding": {"x": {"datum": 0, "type": "quantitative"}, "y": {"datum": 0, "type": "quantitative"}, "theta": {"field": "k", "type": "quantitative", "scale": {"domain": [0, 12], "range": [0, 6.283185307]}, "stack": null}, "theta2": {"field": "k"}, "radius": {"field": "n", "type": "quantitative", "scale": {"type": "sqrt", "domain": [0, 16], "range": [0, 138.4]}}, "color": {"field": "cat", "type": "nominal", "scale": {"domain": ["engaging","interesting","challenging","curios","calming","good","dull","boring","sad","confusing","frustrating","annoying"], "range": ["#0052ff","#4fc3c8","#6d9fe0","#a0b1aa","#bfc68c","#e0dc85","#e7b897","#b59c8a","#f26b2f","#7134f5","#d80f9d","#ff3b00"]}, "legend": null}}},
        {"data": {"name": "labels"}, "transform": [{"filter": "datum.s == 3"}, {"calculate": "(datum.k + 0.5) * PI / 6", "as": "a"}, {"calculate": "111 * sin(datum.a)", "as": "cx"}, {"calculate": "94 * cos(datum.a)", "as": "cy"}, {"calculate": "3.4 * length(datum.cat) + 14", "as": "w"}, {"calculate": "datum.cx - datum.w / 2", "as": "bx1"}, {"calculate": "datum.cx + datum.w / 2", "as": "bx2"}, {"calculate": "datum.cy - 7.5", "as": "by1"}, {"calculate": "datum.cy + 7.5", "as": "by2"}],
         "layer": [
          {"mark": {"type": "rect", "fill": "#ffffff", "cornerRadius": 2.5, "clip": true}, "encoding": {"x": {"field": "bx1", "type": "quantitative"}, "x2": {"field": "bx2"}, "y": {"field": "by1", "type": "quantitative"}, "y2": {"field": "by2"}, "stroke": {"condition": {"test": "datum.sel == 1", "value": "#d3242b"}, "value": "#c8c8c8"}, "strokeWidth": {"condition": {"test": "datum.sel == 1", "value": 1.8}, "value": 1}}},
          {"mark": {"type": "text", "fontSize": 8.5, "fill": "#5a5a5a", "clip": true}, "encoding": {"x": {"field": "cx", "type": "quantitative"}, "y": {"field": "cy", "type": "quantitative"}, "text": {"field": "cat"}}}]}
      ]
    }
  ],
  "config": {
    "view": {"stroke": null},
    "font": "Liberation Sans",
    "axis": {"disable": true},
    "text": {"font": "Liberation Sans"},
    "title": {"orient": "bottom", "fontSize": 9, "fontWeight": "normal", "color": "#333333", "anchor": "middle", "baseline": "alphabetic", "frame": "group", "font": "Liberation Sans"}
  }
}
